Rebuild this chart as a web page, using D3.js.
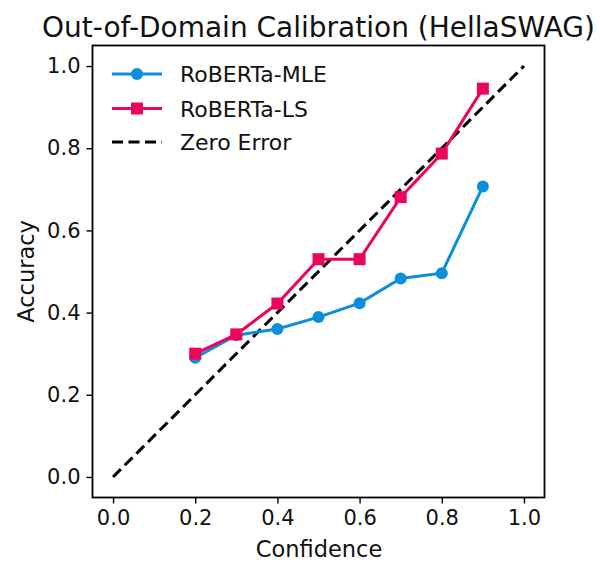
<!DOCTYPE html>
<html><head><meta charset="utf-8">
<script src="https://cdn.jsdelivr.net/npm/d3@7"></script>
<style>body{margin:0;background:#fff}</style>
</head><body><svg id="c" width="600" height="564"></svg>
<script>
const confidence = [0.2,0.3,0.4,0.5,0.6,0.7,0.8,0.9];
const mleAcc = [0.29,0.345,0.36,0.389,0.423,0.483,0.496,0.707];
const lsAcc = [0.30,0.347,0.422,0.53,0.53,0.681,0.787,0.945];
const zeroLine = [[0,0],[1,1]];
const ticks = [0,0.2,0.4,0.6,0.8,1.0];
const seriesNames = ["RoBERTa-MLE","RoBERTa-LS","Zero Error"];
const blue = "#0b8fda", pink = "#e9065c";

const svg = d3.select("#c");
const font = "DejaVu Sans, sans-serif";
const x = d3.scaleLinear().domain([-0.05,1.05]).range([92.5,544.5]);
const y = d3.scaleLinear().domain([-0.05,1.05]).range([497.5,45.5]);

const xa = svg.append("g").attr("transform","translate(0,497.5)")
  .call(d3.axisBottom(x).tickValues(ticks).tickFormat(d3.format(".1f")).tickSize(6).tickPadding(7));
const ya = svg.append("g").attr("transform","translate(92.5,0)")
  .call(d3.axisLeft(y).tickValues(ticks).tickFormat(d3.format(".1f")).tickSize(6).tickPadding(6));
[xa,ya].forEach(a=>{
  a.select(".domain").remove();
  a.selectAll("line").attr("stroke","#000").attr("stroke-width",1.4);
  a.selectAll("text").attr("font-family",font).attr("font-size",21).attr("fill","#111");
});

const line = d3.line().x(d=>x(d[0])).y(d=>y(d[1]));
svg.append("path").datum(zeroLine).attr("d",line).attr("fill","none")
  .attr("stroke","#000").attr("stroke-width",3).attr("stroke-dasharray","11,5.5");

const mle = confidence.map((c,i)=>[c,mleAcc[i]]);
const ls = confidence.map((c,i)=>[c,lsAcc[i]]);
svg.append("path").datum(mle).attr("d",line).attr("fill","none").attr("stroke",blue).attr("stroke-width",3);
svg.selectAll(".m").data(mle).enter().append("circle").attr("cx",d=>x(d[0])).attr("cy",d=>y(d[1])).attr("r",6).attr("fill",blue);
svg.append("path").datum(ls).attr("d",line).attr("fill","none").attr("stroke",pink).attr("stroke-width",3);
svg.selectAll(".s").data(ls).enter().append("rect").attr("x",d=>x(d[0])-6).attr("y",d=>y(d[1])-6).attr("width",12).attr("height",12).attr("fill",pink);

svg.append("rect").attr("x",92.5).attr("y",45.5).attr("width",452).attr("height",452)
  .attr("fill","none").attr("stroke","#000").attr("stroke-width",1.8);

// legend
const leg = svg.append("g");
const ly = [74,108.5,142];
const colors = [blue,pink,"#000"];
seriesNames.forEach((n,i)=>{
  leg.append("line").attr("x1",112).attr("x2",162).attr("y1",ly[i]).attr("y2",ly[i])
    .attr("stroke",colors[i]).attr("stroke-width",3).attr("stroke-dasharray",i==2?"11,5.5":null);
  if(i==0) leg.append("circle").attr("cx",137).attr("cy",ly[i]).attr("r",6).attr("fill",blue);
  if(i==1) leg.append("rect").attr("x",131).attr("y",ly[i]-6).attr("width",12).attr("height",12).attr("fill",pink);
  leg.append("text").attr("x",180).attr("y",ly[i]+8).text(n).attr("font-family",font).attr("font-size",22).attr("fill","#111");
});

svg.append("text").attr("x",318.5).attr("y",37).attr("text-anchor","middle").attr("font-family",font)
  .attr("font-size",28).attr("fill","#111").text("Out-of-Domain Calibration (HellaSWAG)");
svg.append("text").attr("x",319).attr("y",557).attr("text-anchor","middle").attr("font-family",font)
  .attr("font-size",22.5).attr("fill","#111").text("Confidence");
svg.append("text").attr("transform","translate(34,271.5) rotate(-90)").attr("text-anchor","middle").attr("font-family",font)
  .attr("font-size",22.5).attr("fill","#111").text("Accuracy");
</script></body></html>
